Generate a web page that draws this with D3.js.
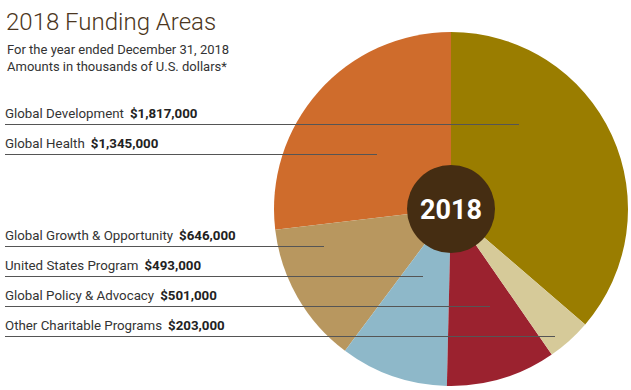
<!DOCTYPE html>
<html>
<head>
<meta charset="utf-8">
<script src="https://cdn.jsdelivr.net/npm/d3@7"></script>
<style>
  body { margin: 0; background: #fff; }
  svg { display: block; font-family: Roboto, "Open Sans", sans-serif; }
</style>
</head>
<body>
<div id="chart"></div>
<script>
var width = 631, height = 390;

// data, in label order (top to bottom)
var categories = ["Global Development", "Global Health", "Global Growth & Opportunity",
                  "United States Program", "Global Policy & Advocacy", "Other Charitable Programs"];
var amounts = [1817000, 1345000, 646000, 493000, 501000, 203000];
// order of the slices, clockwise from 12 o'clock
var sliceOrder = ["Global Development", "Other Charitable Programs", "Global Policy & Advocacy",
                  "United States Program", "Global Growth & Opportunity", "Global Health"];
var colors = ["#9a7d00", "#cf6c2c", "#b8975f", "#8eb8c9", "#9b222f", "#d6ca99"];

// layout
var cx = 451, cy = 209, radius = 177, hole = 44;
var rowY = [118, 148, 240, 270, 300, 330];   // label baselines
var lineEndX = [519, 377, 324, 423, 490, 555];

var fmt = d3.format("$,");
var color = d3.scaleOrdinal().domain(categories).range(colors);

var svg = d3.select("#chart").append("svg")
    .attr("width", width)
    .attr("height", height);

var pie = d3.pie()
    .sort((a, b) => sliceOrder.indexOf(a.name) - sliceOrder.indexOf(b.name))
    .value(d => d.value);

var arc = d3.arc().innerRadius(0).outerRadius(radius);

var rows = categories.map((c, i) => ({ name: c, value: amounts[i], y: rowY[i], x2: lineEndX[i] }));

var g = svg.append("g").attr("transform", "translate(" + cx + "," + cy + ")");

g.selectAll("path")
  .data(pie(rows))
  .join("path")
    .attr("d", arc)
    .attr("fill", d => color(d.data.name));

// title
svg.append("text")
    .attr("x", 6).attr("y", 30)
    .attr("font-size", 24)
    .attr("font-weight", 300)
    .attr("fill", "#4b3621")
    .text("2018 Funding Areas");

svg.selectAll(".sub")
  .data(["For the year ended December 31, 2018", "Amounts in thousands of U.S. dollars*"])
  .join("text")
    .attr("class", "sub")
    .attr("x", 7)
    .attr("y", (d, i) => 54 + i * 16.5)
    .attr("font-size", 13)
    .attr("fill", "#333")
    .text(d => d);

// labels and leader lines
var lab = svg.selectAll(".lab")
  .data(rows)
  .join("g")
    .attr("class", "lab");

lab.append("line")
    .attr("x1", 5)
    .attr("x2", d => d.x2)
    .attr("y1", d => d.y + 6.5)
    .attr("y2", d => d.y + 6.5)
    .attr("stroke", "#555")
    .attr("stroke-width", 1);

var t = lab.append("text")
    .attr("x", 5)
    .attr("y", d => d.y)
    .attr("font-size", 13.3)
    .attr("fill", "#333");
t.append("tspan").text(d => d.name);
t.append("tspan")
    .attr("dx", 6)
    .attr("font-weight", "bold")
    .attr("fill", "#222")
    .text(d => fmt(d.value));

// center disc
g.append("circle")
    .attr("r", hole)
    .attr("fill", "#452d12");

g.append("text")
    .attr("y", 10)
    .attr("text-anchor", "middle")
    .attr("font-size", 27)
    .attr("font-weight", "bold")
    .attr("fill", "#fff")
    .text("2018");
</script>
</body>
</html>
